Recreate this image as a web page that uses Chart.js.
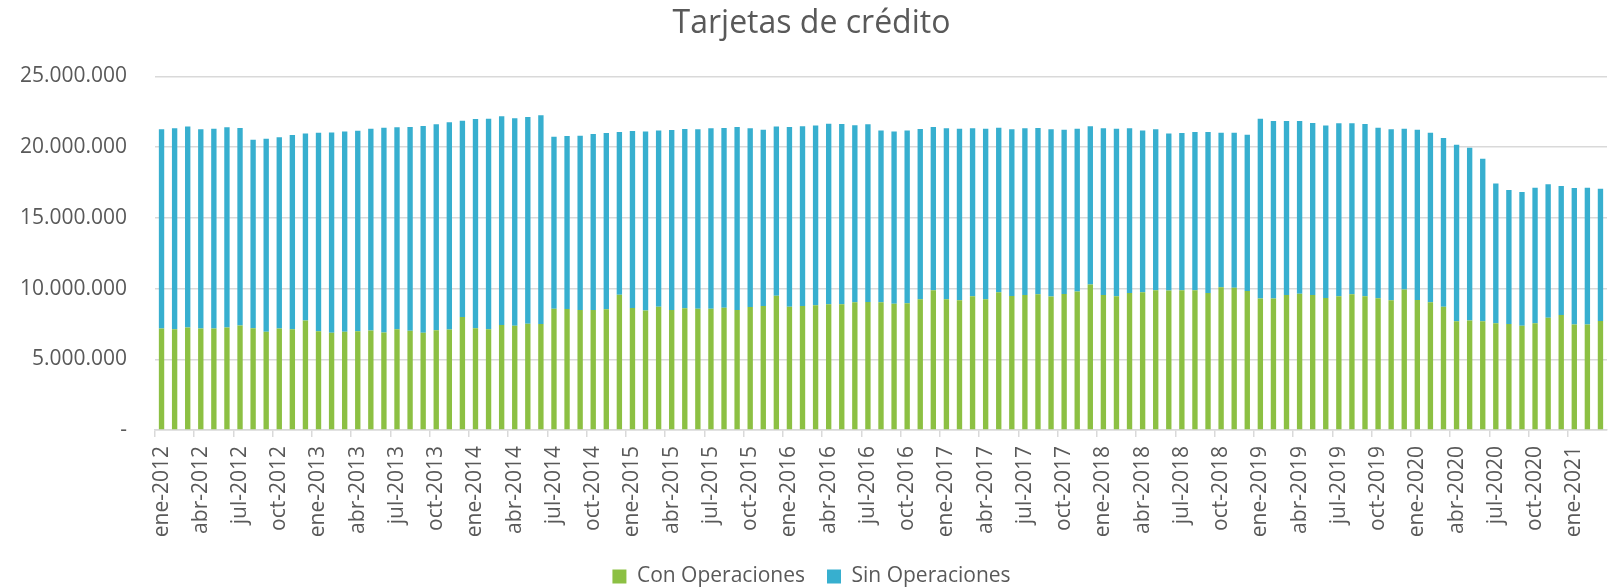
<!DOCTYPE html>
<html>
<head>
<meta charset="utf-8">
<script src="https://cdn.jsdelivr.net/npm/chart.js@4.4.1/dist/chart.umd.min.js"></script>
<style>
  html, body { margin: 0; padding: 0; background: #fff; }
  #wrap { width: 1618px; height: 587px; }
</style>
</head>
<body>
<div id="wrap"><canvas id="chart" width="1618" height="587"></canvas></div>
<script>
// Tarjetas de crédito, ene-2012 .. mar-2021 (monthly)
const meses = ["ene", "feb", "mar", "abr", "may", "jun", "jul", "ago", "sep", "oct", "nov", "dic"];
const anios = [2012, 2013, 2014, 2015, 2016, 2017, 2018, 2019, 2020, 2021];
const nMeses = 111;

const conOperaciones = [
  7180000, 7130000, 7250000, 7180000, 7180000, 7250000, 7390000, 7200000, 6940000, 7180000, 7130000, 7750000,
  6990000, 6870000, 6940000, 6990000, 7040000, 6900000, 7130000, 7010000, 6870000, 7060000, 7110000, 7990000,
  7200000, 7130000, 7420000, 7370000, 7510000, 7490000, 8580000, 8550000, 8480000, 8480000, 8530000, 9570000,
  8630000, 8440000, 8720000, 8480000, 8600000, 8580000, 8580000, 8650000, 8480000, 8700000, 8770000, 9500000,
  8720000, 8770000, 8820000, 8890000, 8890000, 9030000, 9050000, 9030000, 8930000, 8960000, 9240000, 9880000,
  9240000, 9170000, 9450000, 9240000, 9740000, 9480000, 9550000, 9600000, 9430000, 9620000, 9790000, 10280000,
  9550000, 9450000, 9690000, 9740000, 9880000, 9860000, 9880000, 9880000, 9690000, 10090000, 10050000, 9830000,
  9290000, 9290000, 9550000, 9640000, 9550000, 9340000, 9450000, 9600000, 9450000, 9310000, 9170000, 9930000,
  9190000, 9030000, 8720000, 7680000, 7750000, 7680000, 7540000, 7490000, 7370000, 7540000, 7940000, 8130000,
  7460000, 7460000, 7700000
];

const sinOperaciones = [
  14080000, 14200000, 14200000, 14080000, 14120000, 14150000, 13960000, 13320000, 13650000, 13510000, 13720000, 13220000,
  14030000, 14170000, 14170000, 14170000, 14260000, 14470000, 14270000, 14410000, 14620000, 14550000, 14640000, 13880000,
  14790000, 14880000, 14760000, 14670000, 14620000, 14760000, 12150000, 12230000, 12330000, 12440000, 12470000, 11500000,
  12510000, 12670000, 12460000, 12730000, 12680000, 12680000, 12750000, 12700000, 12940000, 12630000, 12460000, 11950000,
  12700000, 12700000, 12700000, 12770000, 12750000, 12510000, 12560000, 12150000, 12180000, 12220000, 12040000, 11540000,
  12090000, 12130000, 11880000, 12060000, 11630000, 11780000, 11780000, 11750000, 11830000, 11610000, 11510000, 11190000,
  11780000, 11850000, 11640000, 11440000, 11380000, 11110000, 11120000, 11190000, 11380000, 10930000, 10970000, 11050000,
  12720000, 12560000, 12300000, 12210000, 12160000, 12180000, 12230000, 12080000, 12190000, 12060000, 12090000, 11370000,
  12040000, 11990000, 11920000, 12490000, 12200000, 11490000, 9880000, 9480000, 9450000, 9590000, 9430000, 9120000,
  9650000, 9670000, 9360000
];

const etiquetas = [];
for (let i = 0; i < nMeses; i++) {
  etiquetas.push(meses[i % 12] + "-" + anios[Math.floor(i / 12)]);
}

const verde = "#8CC043";
const azul = "#37AFCF";
const gris = "#595959";
const rejilla = "#D9D9D9";

function miles(v) {
  if (v === 0) return "-";
  return String(v).replace(/\B(?=(\d{3})+(?!\d))/g, ".");
}

Chart.defaults.font.family = "'Open Sans', 'Noto Sans', sans-serif";
Chart.defaults.color = gris;

new Chart(document.getElementById("chart").getContext("2d"), {
  type: "bar",
  data: {
    labels: etiquetas,
    datasets: [
      {
        label: "Con Operaciones",
        data: conOperaciones,
        backgroundColor: verde,
        borderWidth: 0,
        barPercentage: 1,
        categoryPercentage: 0.41,
      },
      {
        label: "Sin Operaciones",
        data: sinOperaciones,
        backgroundColor: azul,
        borderWidth: 0,
        barPercentage: 1,
        categoryPercentage: 0.41,
      },
    ],
  },
  options: {
    responsive: false,
    animation: false,
    // negative bottom padding pushes the legend down to the canvas edge like the original
    layout: { padding: { left: 16, right: 11, top: 0, bottom: -10 } },
    plugins: {
      title: {
        display: true,
        text: "Tarjetas de crédito",
        color: gris,
        font: { size: 32, weight: "normal" },
        padding: { top: 5, bottom: 33 },
      },
      legend: {
        position: "bottom",
        labels: {
          color: gris,
          font: { size: 21 },
          boxWidth: 14,
          boxHeight: 14,
          padding: 22,
        },
      },
      tooltip: { enabled: false },
    },
    scales: {
      x: {
        stacked: true,
        afterFit: (s) => {
          s.height = 114;
          // rotated labels would otherwise eat into the right edge
          s.paddingLeft = 0;
          s.paddingRight = 0;
        },
        border: { display: true, color: rejilla, width: 1.5 },
        grid: {
          offset: true,
          drawOnChartArea: false,
          tickLength: 7,
          lineWidth: 1.5,
          color: (ctx) => (ctx.index % 3 === 0 ? rejilla : "rgba(0,0,0,0)"),
        },
        ticks: {
          autoSkip: false,
          maxRotation: 90,
          minRotation: 90,
          padding: 9,
          color: gris,
          font: { size: 21 },
          callback: function (v, i) {
            return i % 3 === 0 ? this.getLabelForValue(v) : "";
          },
        },
      },
      y: {
        stacked: true,
        min: 0,
        max: 25000000,
        afterFit: (s) => { s.width = 139; },
        border: { display: false },
        grid: { color: rejilla, lineWidth: 1.5, drawTicks: false },
        ticks: {
          stepSize: 5000000,
          padding: 28,
          color: gris,
          font: { size: 21 },
          callback: (v) => miles(v),
        },
      },
    },
  },
});
</script>
</body>
</html>
